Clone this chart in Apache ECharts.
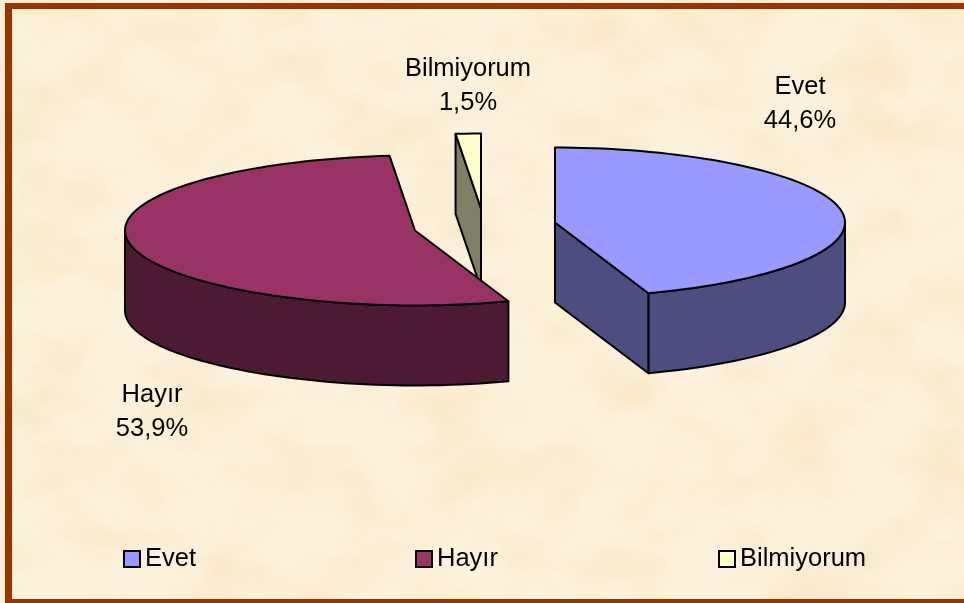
<!DOCTYPE html>
<html><head><meta charset="utf-8">
<script src="https://cdn.jsdelivr.net/npm/echarts@6/dist/echarts.min.js"></script>
<style>
html,body{margin:0;padding:0;background:#fff}
#c{position:absolute;left:0;top:0;width:964px;height:603px;background:transparent;}
#tex{position:absolute;left:0;top:0;width:964px;height:603px}
</style></head><body>
<svg id="tex" xmlns="http://www.w3.org/2000/svg" width="964" height="603">
  <filter id="mottle" x="0" y="0" width="100%" height="100%">
    <feTurbulence type="fractalNoise" baseFrequency="0.012 0.018" numOctaves="5" seed="7"/>
    <feColorMatrix type="matrix" values="0 0 0 0 0.93  0 0 0 0 0.78  0 0 0 0 0.52  1.6 0 0 0 -0.66"/>
  </filter>
  <rect width="964" height="603" fill="#fcf1db"/>
  <rect width="964" height="603" filter="url(#mottle)"/>
</svg>
<div id="c"></div>
<script>
const categories = ['Evet', 'Hayır', 'Bilmiyorum'];
const values = [44.6, 53.9, 1.5];
const topColors = ['#9999FF', '#993366', '#FFFFCC'];
const sideColors = ['#4D4D80', '#4D1A33', '#808066'];
// exploded centres of the slices and where the labels sit
const centres = [[555, 222.5], [415, 230.5], [481, 208.5]];
const labelPos = [[800, 104], [152, 412], [468, 86]];
const legendLeft = [123, 415, 718];
const RX = 290, RY = 75, DEPTH = 80, PERSPECTIVE = 1.03;
const LINE = '#000';
const FONT = '"Liberation Sans", Arial, sans-serif';
const BORDER = '#993300';

const total = values.reduce((a, b) => a + b, 0);
const starts = values.map((_, i) => values.slice(0, i).reduce((a, b) => a + b, 0) / total * 360);
const rad = d => d * Math.PI / 180;

function ringPoint(c, deg, dy) {
  const s = Math.sin(rad(deg));
  return [c[0] + RX * Math.sign(s) * Math.pow(Math.abs(s), PERSPECTIVE), c[1] - RY * Math.cos(rad(deg)) + (dy || 0)];
}
function arc(c, a0, a1, dy) {
  const out = [], n = Math.max(2, Math.ceil(Math.abs(a1 - a0) / 2));
  for (let k = 0; k <= n; k++) out.push(ringPoint(c, a0 + (a1 - a0) * k / n, dy));
  return out;
}
function poly(points, fill) {
  return {type: 'polygon', shape: {points}, style: {fill, stroke: LINE, lineWidth: 2, lineJoin: 'round'}};
}
function renderSlice(i) {
  const c = centres[i], a0 = starts[i], a1 = a0 + values[i] / total * 360;
  const kids = [];
  const wallA = Math.max(a0, 90), wallB = Math.min(a1, 270);
  if (wallB > wallA) {
    kids.push(poly(arc(c, wallA, wallB, 0).concat(arc(c, wallB, wallA, DEPTH)), sideColors[i]));
  }
  // cut face seen from the front
  if (a1 <= 180) {
    kids.push(poly([c, ringPoint(c, a1), ringPoint(c, a1, DEPTH), [c[0], c[1] + DEPTH]], sideColors[i]));
  }
  if (a0 >= 180) {
    kids.push(poly([c, ringPoint(c, a0), ringPoint(c, a0, DEPTH), [c[0], c[1] + DEPTH]], sideColors[i]));
  }
  kids.push(poly([c].concat(arc(c, a0, a1, 0)), topColors[i]));
  kids.push({type: 'text', style: {
    x: labelPos[i][0], y: labelPos[i][1],
    text: categories[i] + '\n' + values[i].toFixed(1).replace('.', ',') + '%',
    font: '25.5px ' + FONT, lineHeight: 34, fill: '#000', align: 'center', verticalAlign: 'middle'
  }});
  return {type: 'group', children: kids};
}

const order = [2, 0, 1];
const chart = echarts.init(document.getElementById('c'), null, {renderer: 'canvas'});
chart.setOption({
  backgroundColor: 'transparent',
  animation: false,
  graphic: [
    {type: 'rect', silent: true, shape: {x: 5, y: 3, width: 959, height: 6}, style: {fill: BORDER}},
    {type: 'rect', silent: true, shape: {x: 5, y: 3, width: 7, height: 600}, style: {fill: BORDER}},
    {type: 'rect', silent: true, shape: {x: 5, y: 599, width: 959, height: 4}, style: {fill: BORDER}}
  ],
  legend: categories.map((name, i) => ({
    data: [name], left: legendLeft[i], top: 546, padding: 0, orient: 'horizontal',
    icon: 'rect', itemWidth: 16, itemHeight: 16, itemGap: 4,
    itemStyle: {borderColor: '#000', borderWidth: 2},
    textStyle: {fontFamily: FONT, fontSize: 25.5, color: '#000', padding: [0, 0, 8, 0]},
    selectedMode: false
  })),
  series: order.map(i => ({
    type: 'custom', name: categories[i], coordinateSystem: 'none',
    itemStyle: {color: topColors[i]},
    data: [[values[i]]],
    renderItem: () => renderSlice(i),
    silent: true, z: 2
  }))
});
</script></body></html>
